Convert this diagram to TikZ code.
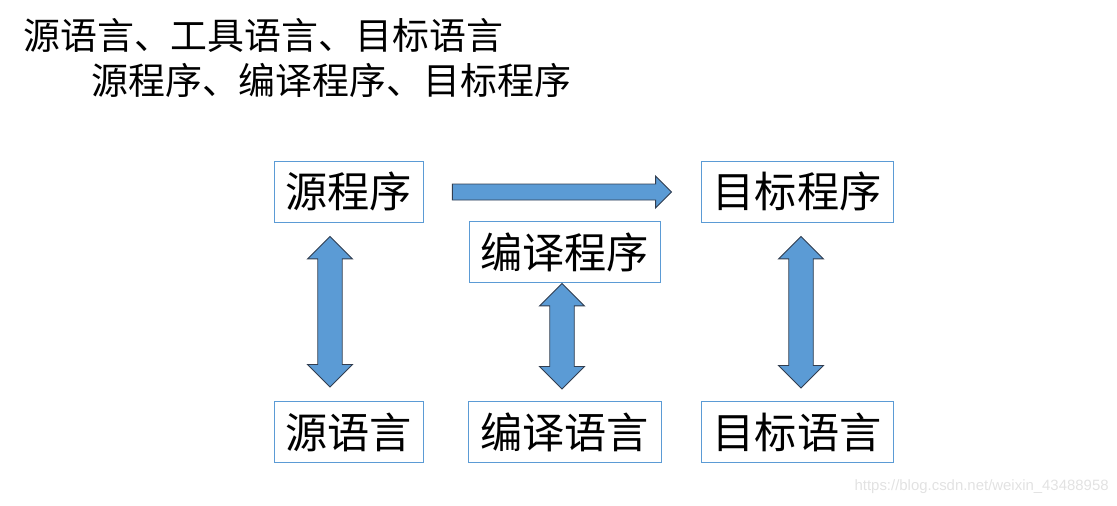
\documentclass[tikz,border=0pt]{standalone}
\usepackage{fontspec}
\usepackage{xcolor}
\usepackage{tikz}
\usetikzlibrary{positioning,calc}
\newfontfamily\cjk{Noto Sans CJK SC}
\setsansfont{Liberation Sans}
\definecolor{boxline}{RGB}{91,155,213}
\definecolor{arrowfill}{RGB}{91,155,213}
\definecolor{arrowline}{RGB}{50,62,80}
\definecolor{markgray}{RGB}{226,226,226}

% block arrow, vertical, tip to tip
\newcommand\vblock[2]{%
  \path[blockarrow] let \p1=(#1), \p2=(#2) in
    (\x1,\y1) -- (\x1+0.45cm,\y1-0.45cm) -- (\x1+0.245cm,\y1-0.45cm)
    -- (\x1+0.245cm,\y2+0.45cm) -- (\x1+0.45cm,\y2+0.45cm) -- (\x1,\y2)
    -- (\x1-0.45cm,\y2+0.45cm) -- (\x1-0.245cm,\y2+0.45cm)
    -- (\x1-0.245cm,\y1-0.45cm) -- (\x1-0.45cm,\y1-0.45cm) -- cycle;}
% block arrow, horizontal, one head
\newcommand\hblock[2]{%
  \path[blockarrow] let \p1=(#1), \p2=(#2) in
    (\x1,\y1+0.16cm) -- (\x2-0.32cm,\y1+0.16cm) -- (\x2-0.32cm,\y1+0.32cm)
    -- (\x2,\y1) -- (\x2-0.32cm,\y1-0.32cm) -- (\x2-0.32cm,\y1-0.16cm)
    -- (\x1,\y1-0.16cm) -- cycle;}

\begin{document}
\begin{tikzpicture}[x=0.02cm,y=-0.02cm,on grid,
    box/.style={draw=boxline,line width=0.5pt,font=\cjk\fontsize{24}{28}\selectfont,
      minimum height=1.22cm,inner sep=0pt},
    title/.style={anchor=west,inner sep=0pt,font=\cjk\fontsize{21}{25}\selectfont},
    blockarrow/.style={fill=arrowfill,draw=arrowline,line width=0.5pt,line join=miter}]
	\useasboundingbox (0,0) rectangle (1117,505);

	\node[title] (line1) at (23,35) {源语言、工具语言、目标语言};
	\node[title] (line2) at (91,80) {源程序、编译程序、目标程序};

	\node[box, minimum width=2.98cm] (srcprog) at (348.5,191.5) {源程序};
	\node[box, minimum width=3.84cm] (tgtprog) at (797,191.5) {目标程序};
	\node[box, minimum width=3.82cm] (cmpprog) at (564.5,252) {编译程序};
	\node[box, minimum width=2.98cm] (srclang) [below=4.81cm of srcprog] {源语言};
	\node[box, minimum width=3.86cm] (cmplang) [below=3.6cm of cmpprog] {编译语言};
	\node[box, minimum width=3.84cm] (tgtlang) [below=4.81cm of tgtprog] {目标语言};

	\coordinate (h1) at ($(srcprog.east)+(29,0.5)$);
	\coordinate (h2) at ($(tgtprog.west)+(-29,0.5)$);
	\coordinate (a1) at ($(srcprog.south)+(-18.5,14)$);
	\coordinate (b1) at ($(srclang.north)+(-18.5,-14)$);
	\coordinate (a2) at ($(cmpprog.south)+(-2.5,0.5)$);
	\coordinate (b2) at ($(cmplang.north)+(-0.5,-12)$);
	\coordinate (a3) at ($(tgtprog.south)+(4,14)$);
	\coordinate (b3) at ($(tgtlang.north)+(4,-13)$);

	\hblock{h1}{h2}
	\vblock{a1}{b1}
	\vblock{a2}{b2}
	\vblock{a3}{b3}

	\node[anchor=east,inner sep=0pt,text=markgray,font=\sffamily\fontsize{8.5}{10}\selectfont] (mark) at (1109,487) {https://blog.csdn.net/weixin\_43488958};
\end{tikzpicture}
\end{document}
